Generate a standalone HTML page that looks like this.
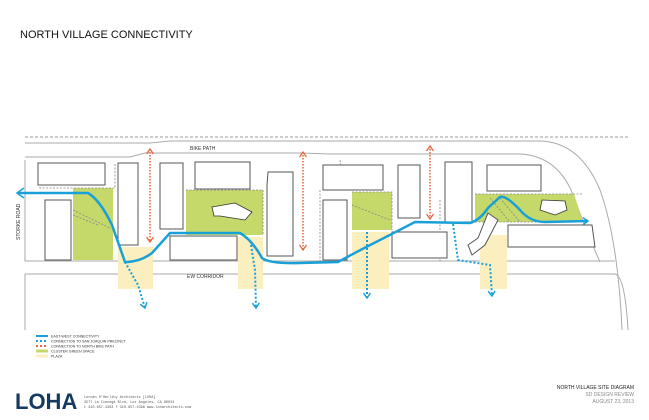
<!DOCTYPE html>
<html><head><style>
html,body{margin:0;padding:0;background:#fff;}
svg{display:block;font-family:"Liberation Sans",sans-serif;}
</style></head><body>
<svg width="649" height="420" viewBox="0 0 649 420" xmlns="http://www.w3.org/2000/svg">
<defs>
<marker id="ab" markerWidth="8" markerHeight="8" refX="6" refY="4" orient="auto" markerUnits="userSpaceOnUse"><path d="M1,0.5 L6,4 L1,7.5" fill="none" stroke="#1aa0d8" stroke-width="1.5"/></marker>
<marker id="ar" markerWidth="8" markerHeight="8" refX="6" refY="4" orient="auto-start-reverse" markerUnits="userSpaceOnUse"><path d="M1,0.5 L6,4 L1,7.5" fill="none" stroke="#e8643c" stroke-width="1.3"/></marker>
</defs>
<text x="20" y="38" font-size="11" fill="#111">NORTH VILLAGE CONNECTIVITY</text>
<g fill="none" stroke="#aaa" stroke-width="1">
<line x1="25" y1="137" x2="630" y2="137" stroke-dasharray="3,2" stroke="#999"/>
<path d="M25,143 L150,143 L170,141 L540,141 Q580,142 600,190 Q618,240 622,330"/>
<path d="M25,157 L130,157 L145,153 L300,153 L330,154 L520,154 Q560,156 575,200 Q590,240 600,262"/>
<path d="M25,160 L25,261 L615,261"/>
<path d="M25,274 L615,274 Q625,276 628,330"/>
<path d="M25,274 L25,330"/>
</g>
<text x="190" y="150" font-size="5" fill="#333">BIKE PATH</text>
<text x="187" y="278" font-size="5" fill="#333">EW CORRIDOR</text>
<text x="0" y="0" font-size="5" fill="#333" transform="translate(20,240) rotate(-90)">STORKE ROAD</text>
<g fill="#fbefc0">
<rect x="118" y="247" width="35" height="42"/>
<rect x="238" y="237" width="25" height="52"/>
<rect x="352" y="232" width="37" height="57"/>
<rect x="480" y="235" width="27" height="54"/>
</g>
<g fill="#c5d86a">
<rect x="73" y="188" width="40" height="72"/>
<rect x="186" y="190" width="77" height="45"/>
<rect x="352" y="192" width="40" height="38"/>
<path d="M475,194 L574,194 L583,222 L475,222 Z"/>
</g>
<g fill="none" stroke="#888" stroke-width="0.8" stroke-dasharray="2,1.5">
<path d="M40,180 L40,188 L115,188 L115,163"/>
<path d="M73,210 L110,228 M73,215 L98,225"/>
<path d="M186,190 L263,190 L263,235"/>
<path d="M352,192 L392,192 L392,230 M352,205 L390,220"/>
<path d="M475,194 L583,194 M475,222 L583,222 M490,198 L510,222 M500,198 L520,222"/>
<path d="M340,160 L345,190 M440,200 L440,262 M320,190 L320,262"/>
</g>
<g fill="#fff" stroke="#555" stroke-width="1">
<rect x="38" y="163" width="67" height="22"/>
<rect x="45" y="200" width="26" height="60"/>
<rect x="118" y="163" width="20" height="82"/>
<rect x="160" y="163" width="23" height="66"/>
<rect x="195" y="162" width="55" height="27"/>
<rect x="170" y="236" width="67" height="24"/>
<path d="M268,172 L293,172 L293,256 L267,256 L267,185 Z"/>
<rect x="323" y="200" width="24" height="60"/>
<rect x="323" y="165" width="60" height="25"/>
<rect x="398" y="165" width="22" height="53"/>
<rect x="392" y="232" width="55" height="26"/>
<rect x="445" y="162" width="27" height="60"/>
<rect x="487" y="165" width="54" height="26"/>
<path d="M508,225 L592,225 L595,247 L508,247 Z"/>
<path d="M488,213 L498,220 L485,245 L472,255 L468,245 L478,238 Z"/>
</g>
<g fill="#fff" stroke="#333" stroke-width="0.8">
<path d="M212,207 L235,203 L252,212 L245,220 L220,216 L214,216 Z"/>
<path d="M542,200 L565,201 L567,210 L555,215 L540,210 Z"/>
</g>
<g stroke="#e8643c" stroke-width="1.5" stroke-dasharray="1.5,1.5" fill="none">
<line x1="150" y1="149" x2="150" y2="242" marker-start="url(#ar)" marker-end="url(#ar)"/>
<line x1="303" y1="152" x2="303" y2="250" marker-start="url(#ar)" marker-end="url(#ar)"/>
<line x1="430" y1="146" x2="430" y2="219" marker-start="url(#ar)" marker-end="url(#ar)"/>
</g>
<g stroke="#1aa0d8" stroke-width="2" stroke-dasharray="2,2" fill="none">
<path d="M125,262 L138,285 L145,308" marker-end="url(#ab)"/>
<path d="M251,245 L255,270 L256,308" marker-end="url(#ab)"/>
<path d="M367,232 L367,298" marker-end="url(#ab)"/>
<path d="M453,224 L458,260 L490,265 L492,296" marker-end="url(#ab)"/>
</g>
<path d="M18,193 L88,193 Q100,200 112,225 L125,262 Q140,262 152,253 L170,233 L240,233 Q252,240 262,258 Q270,264 300,263 L338,262 Q360,250 380,240 L415,222 L470,223 Q480,220 488,208 L500,197 Q506,195 520,210 Q530,222 545,222 L588,221" fill="none" stroke="#1aa0d8" stroke-width="2.5" marker-end="url(#ab)"/>
<path d="M24,188 L17,193 L24,198" fill="none" stroke="#1aa0d8" stroke-width="1.5"/>
<g font-size="3.6" fill="#333">
<line x1="36" y1="336" x2="48" y2="336" stroke="#1aa0d8" stroke-width="2"/><text x="51" y="337.5">EAST-WEST CONNECTIVITY</text>
<line x1="36" y1="341" x2="48" y2="341" stroke="#1aa0d8" stroke-width="2" stroke-dasharray="2,2"/><text x="51" y="342.5">CONNECTION TO SAN JOAQUIN PRECINCT</text>
<line x1="36" y1="346" x2="48" y2="346" stroke="#e8643c" stroke-width="2" stroke-dasharray="2,2"/><text x="51" y="347.5">CONNECTION TO NORTH BIKE PATH</text>
<rect x="36" y="349.5" width="12" height="3" fill="#c5d86a"/><text x="51" y="352.5">CLUSTER GREEN SPACE</text>
<rect x="36" y="354.5" width="12" height="3" fill="#fbefc0"/><text x="51" y="357.5">PLAZA</text>
</g>
<text x="15" y="409" font-size="22" font-weight="bold" fill="#163a5f">LOHA</text>
<g font-family="Liberation Mono,monospace" font-size="3.5" fill="#555">
<text x="84" y="398">Lorcan O'Herlihy Architects [LOHA]</text>
<text x="84" y="403">3577 La Cienega Blvd, Los Angeles, CA 90034</text>
<text x="84" y="408">t 310.657.4363 f 310.657.4398 www.loharchitects.com</text>
</g>
<g font-size="5" text-anchor="end">
<text x="634" y="389" fill="#222">NORTH VILLAGE SITE DIAGRAM</text>
<text x="634" y="396" fill="#888">SD DESIGN REVIEW</text>
<text x="634" y="403" fill="#888">AUGUST 23, 2013</text>
</g>
</svg>
</body></html>
